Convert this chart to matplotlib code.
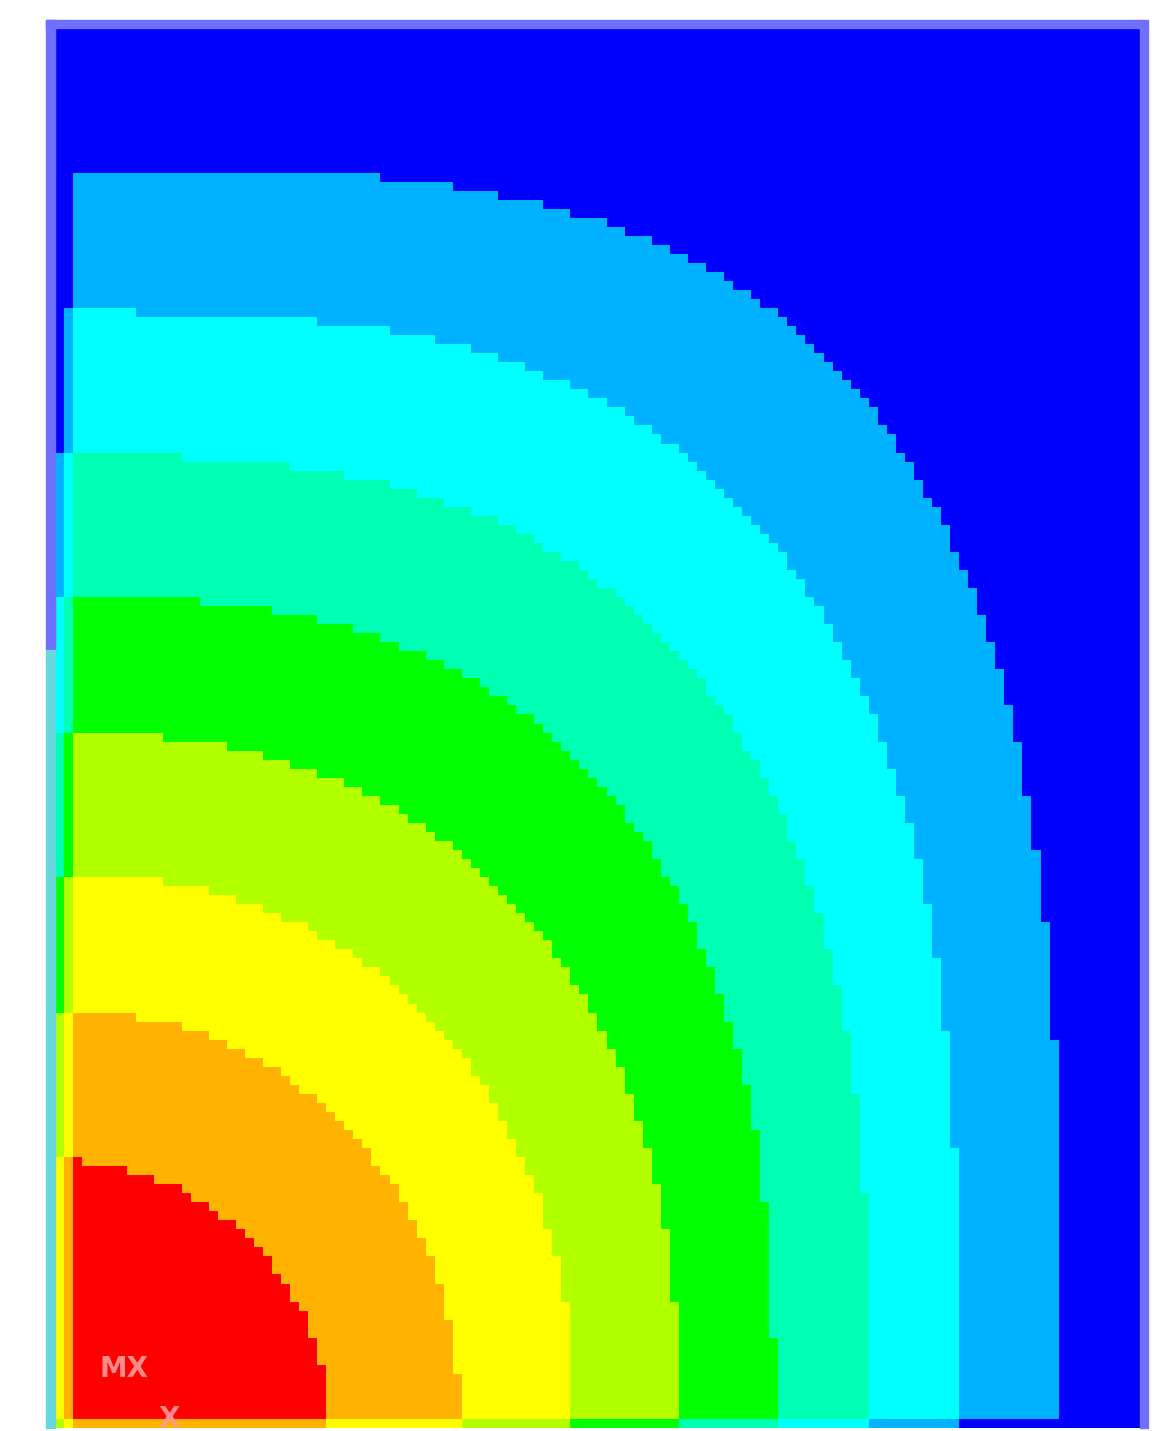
import numpy as np
import matplotlib.pyplot as plt
from matplotlib.colors import ListedColormap
from matplotlib.patches import Rectangle

# band colours, from the hottest (bottom-left) to the coolest (top-right)
band_colors = ['#ff0000', '#ffb200', '#ffff00', '#b2ff00', '#00ff00',
               '#00ffb2', '#00ffff', '#00b2ff', '#0000ff']

# contour boundaries (domain 7.75 wide, 10 high)
bound_height = [1.91, 2.99, 3.96, 4.97, 5.94, 6.95, 7.97, 9.00]  # crossing of the left edge
bound_width = [1.96, 2.89, 3.71, 4.46, 5.14, 5.82, 6.46, 7.18]   # crossing of the bottom edge
bound_shape = [2.0, 2.1, 2.2, 2.35, 2.6, 2.8, 3.0, 3.3]          # squareness of each boundary

x_max, y_max = 7.75, 10.0
nx, ny = 120, 155

# coarse grid, like the original low-res export
xc = (np.arange(nx) + 0.5) * x_max / nx
yc = (np.arange(ny) + 0.5) * y_max / ny
X, Y = np.meshgrid(xc, yc)

band = np.zeros_like(X, dtype=int)
for h, w, p in zip(bound_height, bound_width, bound_shape):
    s = (X / w) ** p + (Y / h) ** p
    band += (s > 1).astype(int)

# cooler cells along the left and bottom edges
band[:, 0] += 2
band[:, 1] += 1
band[0, :] += 1
band = np.clip(band, 0, len(band_colors) - 1)

W, H = 1152, 1431
fig = plt.figure(figsize=(W / 100, H / 100), dpi=100)
ax = fig.add_axes([55 / W, 3 / H, 1085 / W, 1400 / H])
ax.imshow(band, origin='lower', extent=[0, x_max, 0, y_max], aspect='auto',
          cmap=ListedColormap(band_colors), vmin=-0.5, vmax=len(band_colors) - 0.5,
          interpolation='nearest')
ax.set_axis_off()

# window frame
frame = '#7070ff'
fig.add_artist(Rectangle((46 / W, 1 - 28 / H), 1102 / W, 8 / H, color=frame,
                         transform=fig.transFigure))
fig.add_artist(Rectangle((1140 / W, 3 / H), 8 / W, 1400 / H, color=frame,
                         transform=fig.transFigure))
fig.add_artist(Rectangle((46 / W, 1 - 650 / H), 9 / W, 630 / H, color=frame,
                         transform=fig.transFigure))
fig.add_artist(Rectangle((46 / W, 3 / H), 9 / W, 778 / H, color='#68d8dc',
                         transform=fig.transFigure))

# ANSYS labels
fig.text(100 / W, 1 - 1377 / H, 'MX', color='#ff9a9a', fontsize=20,
         fontweight='bold', alpha=0.9)
fig.text(158 / W, 1 - 1427 / H, 'X', color='#ff9a9a', fontsize=20,
         fontweight='bold', alpha=0.9)

fig.savefig('out.png', dpi=100)
